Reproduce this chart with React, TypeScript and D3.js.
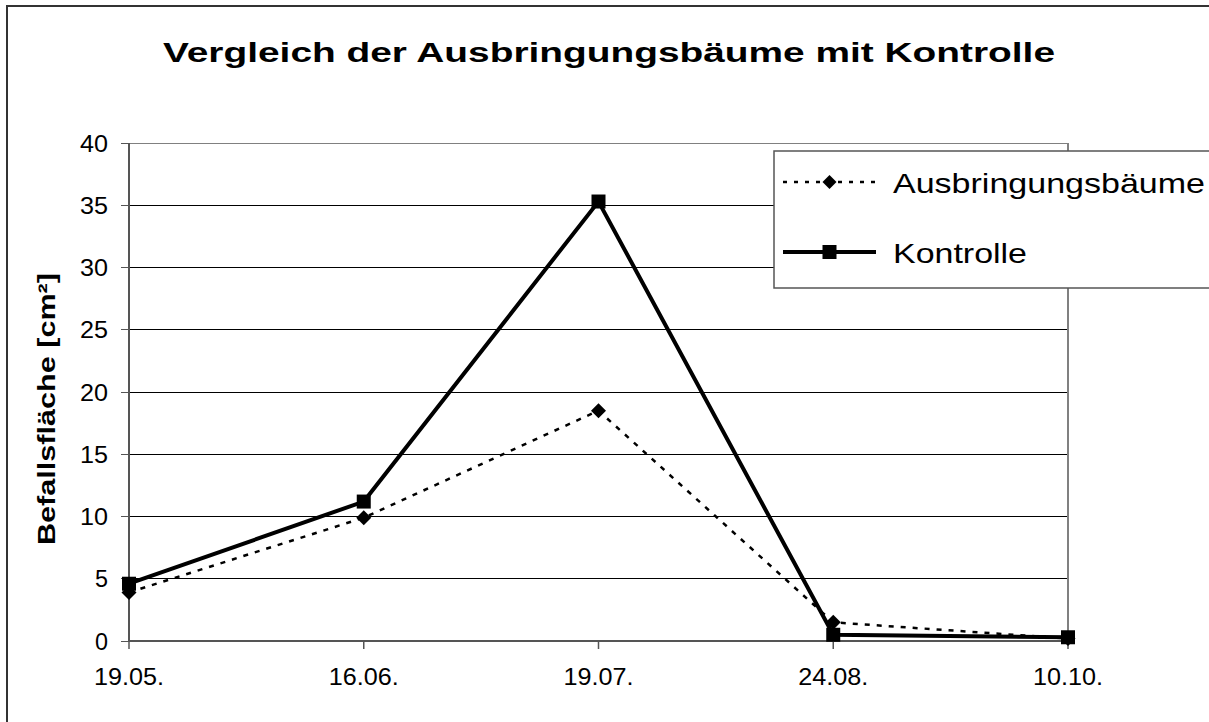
import * as d3 from 'd3'

const W = 1209
const H = 722

// chart data
const dates = ['19.05.', '16.06.', '19.07.', '24.08.', '10.10.']
const ausbringung = [3.9, 9.9, 18.5, 1.5, 0.2]
const kontrolle = [4.6, 11.2, 35.3, 0.5, 0.3]
const yTicks = [0, 5, 10, 15, 20, 25, 30, 35, 40]

const PLOT = { left: 129, right: 1068, top: 143, bottom: 641 }
const FONT = 'Liberation Sans, Arial, sans-serif'

export default function App() {
  const x = d3.scalePoint<string>().domain(dates).range([PLOT.left, PLOT.right]).padding(0)
  const y = d3.scaleLinear().domain([0, 40]).range([PLOT.bottom, PLOT.top])

  const line = d3.line<number>()
    .x((_, i) => x(dates[i]) as number)
    .y((d) => y(d))

  const diamond = (cx: number, cy: number, r = 7.5) =>
    `M${cx},${cy - r}L${cx + r},${cy}L${cx},${cy + r}L${cx - r},${cy}Z`

  return (
    <div style={{ position: 'fixed', left: 0, top: 0 }}>
      <svg width={W} height={H} style={{ display: 'block', background: '#fff' }} fontFamily={FONT}>
        {/* outer chart frame */}
        <rect x={7} y={6} width={W + 10} height={H + 10} fill="#fff" stroke="#333" strokeWidth={2} />

        {/* title */}
        <text x={609} y={62} textAnchor="middle" fontSize={27} fontWeight="bold" textLength={892} lengthAdjust="spacingAndGlyphs">
          Vergleich der Ausbringungsbäume mit Kontrolle
        </text>

        {/* gridlines + y ticks */}
        {yTicks.map((t) => (
          <g key={t}>
            {t > 0 && (
              <line x1={PLOT.left} x2={PLOT.right} y1={y(t)} y2={y(t)}
                stroke={t === 40 ? '#808080' : '#000'} strokeWidth={1} shapeRendering="crispEdges" />
            )}
            <line x1={121} x2={PLOT.left} y1={y(t)} y2={y(t)} stroke="#555" strokeWidth={1} shapeRendering="crispEdges" />
            <text x={108} y={y(t) + 8.5} textAnchor="end" fontSize={23}
              textLength={t >= 10 ? 28 : 13} lengthAdjust="spacingAndGlyphs">
              {t}
            </text>
          </g>
        ))}

        {/* plot area right border */}
        <line x1={PLOT.right} x2={PLOT.right} y1={PLOT.top} y2={PLOT.bottom} stroke="#808080" strokeWidth={2} />

        {/* axes */}
        <line x1={PLOT.left} x2={PLOT.left} y1={PLOT.top} y2={PLOT.bottom} stroke="#555" strokeWidth={2} />
        <line x1={PLOT.left} x2={PLOT.right} y1={PLOT.bottom} y2={PLOT.bottom} stroke="#555" strokeWidth={2} />
        {dates.map((d) => (
          <g key={d}>
            <line x1={x(d)} x2={x(d)} y1={PLOT.bottom} y2={PLOT.bottom + 8} stroke="#555" strokeWidth={1.5} />
            <text x={x(d)} y={685} textAnchor="middle" fontSize={23} textLength={70} lengthAdjust="spacingAndGlyphs">
              {d}
            </text>
          </g>
        ))}

        {/* y axis title */}
        <text transform={`translate(55,409) rotate(-90)`} textAnchor="middle" fontSize={24} fontWeight="bold"
          textLength={272} lengthAdjust="spacingAndGlyphs">
          Befallsfläche [cm²]
        </text>

        {/* series: Ausbringungsbäume */}
        <path d={line(ausbringung) ?? ''} fill="none" stroke="#000" strokeWidth={2.5} strokeDasharray="5 7" />
        {ausbringung.map((v, i) => (
          <path key={i} d={diamond(x(dates[i]) as number, y(v))} fill="#000" />
        ))}

        {/* series: Kontrolle */}
        <path d={line(kontrolle) ?? ''} fill="none" stroke="#000" strokeWidth={4} strokeLinejoin="miter" />
        {kontrolle.map((v, i) => (
          <rect key={i} x={(x(dates[i]) as number) - 7} y={y(v) - 7} width={14} height={14} fill="#000" />
        ))}

        {/* legend */}
        <rect x={774} y={151} width={460} height={137} fill="#fff" stroke="#555" strokeWidth={1.5} />
        <line x1={783} x2={876} y1={182} y2={182} stroke="#000" strokeWidth={2.5} strokeDasharray="4 7" />
        <path d={diamond(829.5, 182, 7)} fill="#000" />
        <text x={893} y={193} fontSize={28} textLength={312} lengthAdjust="spacingAndGlyphs">Ausbringungsbäume</text>
        <line x1={783} x2={876} y1={252} y2={252} stroke="#000" strokeWidth={4} />
        <rect x={822.5} y={245} width={14} height={14} fill="#000" />
        <text x={893} y={263} fontSize={28} textLength={134} lengthAdjust="spacingAndGlyphs">Kontrolle</text>
      </svg>
    </div>
  )
}
